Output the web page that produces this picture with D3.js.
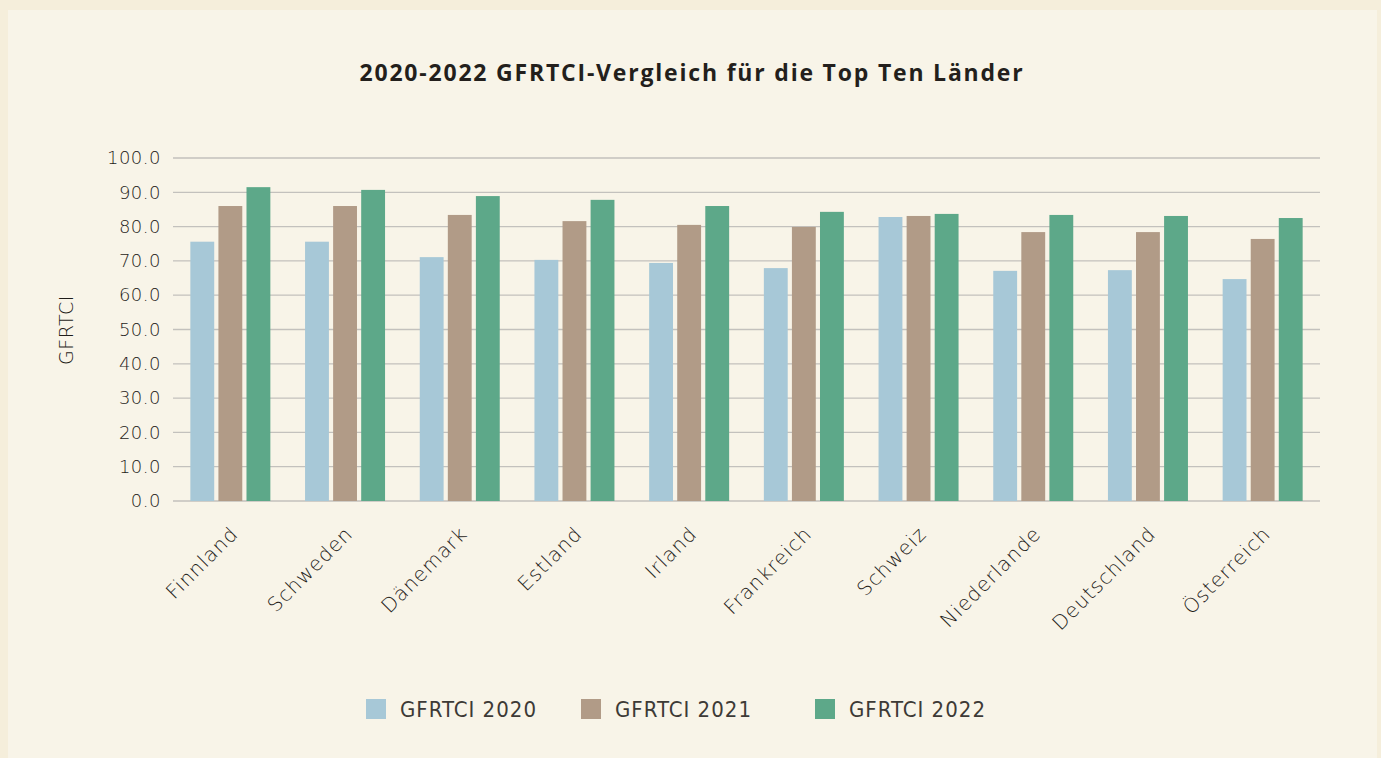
<!DOCTYPE html>
<html>
<head>
<meta charset="utf-8">
<script src="https://cdn.jsdelivr.net/npm/d3@7.9.0/dist/d3.min.js"></script>
<style>
  html, body { margin: 0; padding: 0; background: #f5eedb; }
  svg { display: block; }
</style>
</head>
<body>
<svg id="chart" width="1381" height="758"></svg>
<script>
// data
const countries = ['Finnland', 'Schweden', 'Dänemark', 'Estland', 'Irland',
                   'Frankreich', 'Schweiz', 'Niederlande', 'Deutschland', 'Österreich'];
const seriesNames = ['GFRTCI 2020', 'GFRTCI 2021', 'GFRTCI 2022'];
const values2020 = [75.6, 75.6, 71.1, 70.3, 69.4, 67.9, 82.8, 67.1, 67.3, 64.7];
const values2021 = [86.0, 86.0, 83.4, 81.6, 80.5, 79.9, 83.1, 78.4, 78.4, 76.4];
const values2022 = [91.5, 90.7, 88.9, 87.8, 86.0, 84.3, 83.7, 83.4, 83.1, 82.5];
const yTicks = [0, 10, 20, 30, 40, 50, 60, 70, 80, 90, 100];

const seriesValues = [values2020, values2021, values2022];
const colors = ['#a7c8d7', '#b19b87', '#5da889'];
const textColor = '#1f1c19';
const labelFont = '"DejaVu Sans", sans-serif';

const svg = d3.select('#chart');

// inner panel
svg.append('rect')
  .attr('x', 8).attr('y', 10)
  .attr('width', 1369).attr('height', 760)
  .attr('fill', '#f8f4e8');

const margin = { left: 173, right: 61, top: 158, bottom: 257 };
const width = 1381 - margin.left - margin.right;
const height = 758 - margin.top - margin.bottom;

const g = svg.append('g').attr('transform', `translate(${margin.left},${margin.top})`);

const x0 = d3.scaleBand().domain(countries).range([0, width]).padding(0);
const x1 = d3.scaleBand().domain(seriesNames)
  .range([(x0.bandwidth() - 80) / 2, (x0.bandwidth() + 80) / 2])
  .paddingInner(0.15);
const y = d3.scaleLinear().domain([0, 100]).range([height, 0]);

/* gridlines */
g.append('g')
  .selectAll('line')
  .data(yTicks)
  .join('line')
    .attr('x1', 0).attr('x2', width)
    .attr('y1', d => y(d)).attr('y2', d => y(d))
    .attr('stroke', '#c3c1bd')
    .attr('stroke-width', 1.3);

/* y axis labels */
const yAxis = d3.axisLeft(y).tickValues(yTicks).tickFormat(d3.format('.1f')).tickSize(0).tickPadding(12);
g.append('g').call(yAxis)
  .call(s => s.select('.domain').remove())
  .selectAll('text')
    .attr('font-family', labelFont)
    .attr('font-weight', 200)
    .attr('font-size', 18)
    .attr('letter-spacing', 0.5)
    .attr('fill', textColor);

/* bars */
const groups = g.append('g')
  .selectAll('g')
  .data(countries)
  .join('g')
    .attr('transform', d => `translate(${x0(d)},0)`);

groups.selectAll('rect')
  .data((c, i) => seriesNames.map((s, j) => ({ s, v: seriesValues[j][i], j })))
  .join('rect')
    .attr('x', d => x1(d.s))
    .attr('width', x1.bandwidth())
    .attr('y', d => y(d.v))
    .attr('height', d => y(0) - y(d.v))
    .attr('fill', d => colors[d.j]);

/* x axis labels */
const xAxis = d3.axisBottom(x0).tickSize(0).tickPadding(0);
g.append('g')
  .attr('transform', `translate(0,${height})`)
  .call(xAxis)
  .call(s => s.select('.domain').remove())
  .selectAll('text')
    .attr('font-family', labelFont)
    .attr('font-weight', 200)
    .attr('font-size', 20)
    .attr('letter-spacing', 1)
    .attr('fill', textColor)
    .attr('text-anchor', 'end')
    .attr('dy', 0)
    .attr('transform', 'translate(9,34) rotate(-45)');

/* axis title */
svg.append('text')
  .attr('transform', 'translate(73,330) rotate(-90)')
  .attr('text-anchor', 'middle')
  .attr('font-family', labelFont)
  .attr('font-weight', 200)
  .attr('font-size', 19)
  .attr('letter-spacing', 0.5)
  .attr('fill', textColor)
  .text('GFRTCI');

/* title */
svg.append('text')
  .attr('x', 692).attr('y', 81)
  .attr('text-anchor', 'middle')
  .attr('font-family', '"Open Sans", sans-serif')
  .attr('font-weight', 'bold')
  .attr('font-size', 23)
  .attr('letter-spacing', 1.8)
  .attr('fill', '#231f1c')
  .text('2020-2022 GFRTCI-Vergleich für die Top Ten Länder');

/* legend */
const legendX = [366, 581, 815];
const legend = svg.append('g')
  .selectAll('g')
  .data(seriesNames)
  .join('g')
    .attr('transform', (d, i) => `translate(${legendX[i]},699)`);
legend.append('rect')
  .attr('width', 20).attr('height', 20)
  .attr('fill', (d, i) => colors[i]);
legend.append('text')
  .attr('x', 34).attr('y', 18)
  .attr('font-family', '"Liberation Sans Narrow", "DejaVu Sans Condensed", sans-serif')
  .attr('font-size', 22)
  .attr('letter-spacing', 1)
  .attr('fill', '#3d3a36')
  .text(d => d);
</script>
</body>
</html>
